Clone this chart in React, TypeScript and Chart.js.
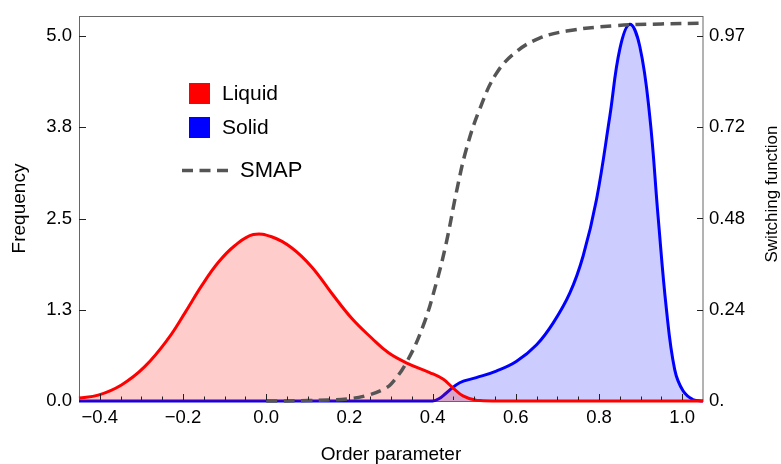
import React, { useEffect, useRef } from "react";
import { Chart, registerables } from "chart.js";

Chart.register(...registerables);

const FAMILY = "'Liberation Sans', Arial, Helvetica, sans-serif";

// Liquid distribution (Frequency)
const liquidX = [-0.45, -0.404, -0.348, -0.292, -0.236, -0.195, -0.155, -0.115, -0.075, -0.031, 0.013, 0.061, 0.109, 0.157, 0.206, 0.254, 0.294, 0.338, 0.393, 0.425, 0.449, 0.473, 0.505, 0.55, 0.7, 0.9, 1.05];
const liquidY = [0.04, 0.08, 0.22, 0.47, 0.85, 1.21, 1.58, 1.9, 2.13, 2.28, 2.25, 2.1, 1.84, 1.48, 1.13, 0.86, 0.66, 0.52, 0.39, 0.3, 0.18, 0.07, 0.01, 0, 0, 0, 0];

// Solid distribution (Frequency)
const solidX = [-0.45, -0.2, 0.1, 0.3, 0.4, 0.415, 0.433, 0.465, 0.505, 0.553, 0.601, 0.65, 0.69, 0.73, 0.762, 0.794, 0.826, 0.85, 0.874, 0.898, 0.922, 0.942, 0.962, 0.982, 1.002, 1.026, 1.05];
const solidY = [0, 0, 0, 0, 0, 0.03, 0.11, 0.25, 0.32, 0.41, 0.54, 0.77, 1.07, 1.48, 1.99, 2.76, 3.9, 4.82, 5.16, 4.86, 3.9, 2.53, 1.26, 0.43, 0.14, 0.02, 0];

// SMAP switching function (right axis)
const smapX = [0.0, 0.1, 0.2, 0.246, 0.28, 0.3, 0.337, 0.377, 0.409, 0.433, 0.457, 0.481, 0.513, 0.553, 0.601, 0.657, 0.722, 0.834, 0.95, 1.05];
const smapY = [0, 0.001, 0.006, 0.016, 0.03, 0.045, 0.102, 0.199, 0.314, 0.421, 0.554, 0.669, 0.775, 0.87, 0.928, 0.964, 0.983, 0.997, 1.002, 1.004];

const xTickValues = [-0.4, -0.2, 0, 0.2, 0.4, 0.6, 0.8, 1.0];
const xTickLabels = ["\u22120.4", "\u22120.2", "0.0", "0.2", "0.4", "0.6", "0.8", "1.0"];
const yTickValues = [0, 1.25, 2.5, 3.75, 5.0];
const yTickLabels = ["0.0", "1.3", "2.5", "3.8", "5.0"];
const y2TickValues = [0, 0.2425, 0.485, 0.7275, 0.97];
const y2TickLabels = ["0.", "0.24", "0.48", "0.72", "0.97"];
const legendLabels = ["Liquid", "Solid", "SMAP"];

const X_MIN = -0.45;
const X_MAX = 1.05;
const Y_MAX = 5.274;
const Y2_MAX = 1.0231;

const RED = "#ff0000";
const BLUE = "#0000ff";
const GREY = "#555555";

const decor = {
  id: "decor",
  beforeDatasetsDraw(chart: any) {
    const { ctx, chartArea: a } = chart;
    ctx.save();
    ctx.strokeStyle = "#666";
    ctx.lineWidth = 1;
    ctx.strokeRect(a.left + 0.5, a.top + 0.5, a.right - a.left - 0.5, a.bottom - a.top);
    ctx.restore();
  },
  afterDatasetsDraw(chart: any) {
    const { ctx, chartArea: a, scales } = chart;
    const xs = scales.x;
    const ys = scales.y;
    const y2 = scales.y2;
    ctx.save();
    ctx.strokeStyle = "#222";
    ctx.lineWidth = 1;
    ctx.beginPath();
    for (let k = -8; k <= 20; k++) {
      const v = k * 0.05;
      const px = Math.round(xs.getPixelForValue(v)) + 0.5;
      const major = k % 4 === 0;
      ctx.moveTo(px, a.bottom - 1);
      ctx.lineTo(px, a.bottom - (major ? 7 : 4.5));
    }
    yTickValues.forEach((v) => {
      if (v === 0) return;
      const py = Math.round(ys.getPixelForValue(v)) + 0.5;
      ctx.moveTo(a.left, py);
      ctx.lineTo(a.left + 7, py);
    });
    y2TickValues.forEach((v) => {
      if (v === 0) return;
      const py = Math.round(y2.getPixelForValue(v)) + 0.5;
      ctx.moveTo(a.right, py);
      ctx.lineTo(a.right - 6, py);
    });
    ctx.stroke();
    ctx.restore();
  },
  afterDraw(chart: any) {
    const { ctx, chartArea: a } = chart;
    ctx.save();
    ctx.fillStyle = "#000";
    ctx.textBaseline = "middle";

    // axis titles
    ctx.textAlign = "center";
    ctx.font = `19px ${FAMILY}`;
    ctx.fillText("Order parameter", (a.left + a.right) / 2, 455);

    ctx.save();
    ctx.translate(20, (a.top + a.bottom) / 2);
    ctx.rotate(-Math.PI / 2);
    ctx.font = `19px ${FAMILY}`;
    ctx.fillText("Frequency", 0, 0);
    ctx.restore();

    ctx.save();
    ctx.translate(772, 194);
    ctx.rotate(-Math.PI / 2);
    ctx.font = `17px ${FAMILY}`;
    ctx.fillText("Switching function", 0, 0);
    ctx.restore();

    // legend
    ctx.textAlign = "left";
    ctx.fillStyle = RED;
    ctx.fillRect(189, 83, 21, 21);
    ctx.fillStyle = BLUE;
    ctx.fillRect(189, 117, 21, 21);
    ctx.fillStyle = "#000";
    ctx.font = `21px ${FAMILY}`;
    ctx.fillText(legendLabels[0], 222, 94);
    ctx.fillText(legendLabels[1], 222, 128);
    ctx.font = `22px ${FAMILY}`;
    ctx.fillText(legendLabels[2], 240, 171);

    ctx.strokeStyle = GREY;
    ctx.lineWidth = 3.5;
    ctx.setLineDash([11, 6.5]);
    ctx.beginPath();
    ctx.moveTo(182, 170.5);
    ctx.lineTo(229, 170.5);
    ctx.stroke();
    ctx.restore();
  },
};

export default function App() {
  const canvasRef = useRef<HTMLCanvasElement | null>(null);

  useEffect(() => {
    const canvas = canvasRef.current;
    if (!canvas) return;
    const tickFont = { family: FAMILY, size: 18.5 };
    const chart = new Chart(canvas, {
      type: "line",
      data: {
        datasets: [
          {
            label: "SMAP",
            data: smapX.map((x, i) => ({ x, y: smapY[i] })),
            yAxisID: "y2",
            borderColor: GREY,
            borderDash: [11, 6.5],
            borderWidth: 3.5,
            fill: false,
            pointRadius: 0,
            tension: 0.4,
            clip: false,
          },
          {
            label: "Liquid",
            data: liquidX.map((x, i) => ({ x, y: liquidY[i] })),
            yAxisID: "y",
            borderColor: RED,
            backgroundColor: "rgba(255,0,0,0.2)",
            borderWidth: 3,
            fill: "origin",
            pointRadius: 0,
            tension: 0.4,
            clip: false,
          },
          {
            label: "Solid",
            data: solidX.map((x, i) => ({ x, y: solidY[i] })),
            yAxisID: "y",
            borderColor: BLUE,
            backgroundColor: "rgba(0,0,255,0.2)",
            borderWidth: 3,
            fill: "origin",
            pointRadius: 0,
            tension: 0.4,
            clip: false,
          },
        ],
      },
      options: {
        animation: false,
        responsive: false,
        maintainAspectRatio: false,
        layout: { padding: { top: 16, left: 0, right: 0, bottom: 0 } },
        plugins: { legend: { display: false }, tooltip: { enabled: false } },
        scales: {
          x: {
            type: "linear",
            position: "bottom",
            min: X_MIN,
            max: X_MAX,
            grid: { display: false, drawTicks: false },
            border: { display: false },
            afterBuildTicks: (s: any) => {
              s.ticks = xTickValues.map((v) => ({ value: v }));
            },
            afterFit: (s: any) => {
              s.height = 63;
              s.paddingLeft = 0;
              s.paddingRight = 0;
            },
            ticks: {
              autoSkip: false,
              maxRotation: 0,
              padding: 6,
              color: "#000",
              font: tickFont,
              callback: (_v: any, i: number) => xTickLabels[i],
            },
          },
          y: {
            type: "linear",
            position: "left",
            min: 0,
            max: Y_MAX,
            grid: { display: false, drawTicks: false },
            border: { display: false },
            afterBuildTicks: (s: any) => {
              s.ticks = yTickValues.map((v) => ({ value: v }));
            },
            afterFit: (s: any) => {
              s.width = 79;
              s.paddingTop = 0;
              s.paddingBottom = 0;
            },
            ticks: {
              padding: 7,
              color: "#000",
              font: tickFont,
              callback: (_v: any, i: number) => yTickLabels[i],
            },
          },
          y2: {
            type: "linear",
            position: "right",
            min: 0,
            max: Y2_MAX,
            grid: { display: false, drawTicks: false },
            border: { display: false },
            afterBuildTicks: (s: any) => {
              s.ticks = y2TickValues.map((v) => ({ value: v }));
            },
            afterFit: (s: any) => {
              s.width = 78;
              s.paddingTop = 0;
              s.paddingBottom = 0;
            },
            ticks: {
              padding: 6,
              color: "#000",
              font: tickFont,
              callback: (_v: any, i: number) => y2TickLabels[i],
            },
          },
        },
      } as any,
      plugins: [decor],
    });
    return () => chart.destroy();
  }, []);

  return (
    <div style={{ position: "fixed", left: 0, top: 0, width: 781, height: 464, background: "#fff" }}>
      <canvas ref={canvasRef} width={781} height={464} style={{ display: "block", width: 781, height: 464 }} />
    </div>
  );
}
